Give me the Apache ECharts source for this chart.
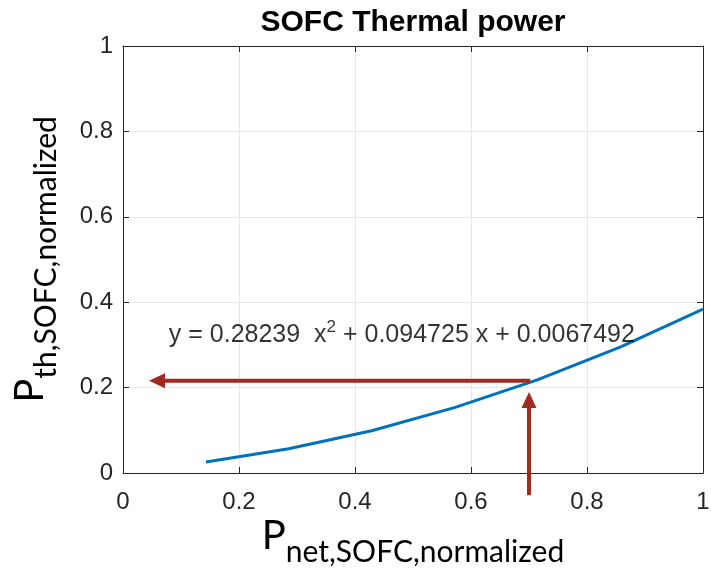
<!DOCTYPE html>
<html><head><meta charset="utf-8">
<script src="https://cdn.jsdelivr.net/npm/echarts@6/dist/echarts.min.js"></script>
<style>html,body{margin:0;padding:0;background:#fff}#c{width:711px;height:569px}</style>
</head><body><div id="c"></div>
<script>
// ---- data ----
const titleText = 'SOFC Thermal power';
const xValues = [0.1429, 0.2857, 0.4286, 0.5714, 0.7143, 0.8571, 1.0];
const yValues = [0.026, 0.057, 0.099, 0.153, 0.218, 0.295, 0.384];
const xTicks = ['0', '0.2', '0.4', '0.6', '0.8', '1'];
const yTicks = ['0', '0.2', '0.4', '0.6', '0.8', '1'];
const xName = ['P', 'net,SOFC,normalized'];
const yName = ['P', 'th,SOFC,normalized'];
const eqParts = ['y = 0.28239  x', '2', ' + 0.094725 x + 0.0067492'];
const eqPos = [0.079, 0.322];
// arrows: [start, end(head centre)]
const hArrow = [[0.702, 0.216], [0.0586, 0.216]];
const vArrow = [[0.7, -0.052], [0.7, 0.171]];
const headRotation = [90, 0];

const axisColor = '#262626';
const arrowColor = '#A1291D';

const chart = echarts.init(document.getElementById('c'), null, {renderer: 'canvas'});
const tickFmt = arr => (v) => {
  const i = Math.round(v / 0.2);
  return arr[i] !== undefined ? arr[i] : '';
};
const nameRich = {
  p: {fontSize: 40, fontFamily: 'Lato', color: '#000', lineHeight: 40, verticalAlign: 'top'},
  s: {fontSize: 30, fontFamily: 'Lato', color: '#000', lineHeight: 51, verticalAlign: 'bottom'}
};
const baseAxis = {
  type: 'value', min: 0, max: 1, interval: 0.2,
  nameMoveOverlap: false,
  axisLine: {show: true, onZero: false, lineStyle: {color: axisColor, width: 1}},
  axisTick: {show: true, inside: true, length: 6, lineStyle: {color: axisColor, width: 1}},
};
const arrowLine = (pts) => ({
  type: 'line', data: pts, clip: false, silent: true, z: 4,
  showSymbol: false, symbol: 'none',
  lineStyle: {color: arrowColor, width: 4}
});
const option = {
  animation: false,
  backgroundColor: '#fff',
  grid: {left: 123, right: 8, top: 46, bottom: 96, containLabel: false, outerBoundsMode: 'none'},
  xAxis: [
    Object.assign({}, baseAxis, {
      position: 'bottom',
      axisLabel: {fontSize: 24, color: axisColor, fontFamily: 'Liberation Sans', margin: 17, formatter: tickFmt(xTicks)},
      splitLine: {show: true, lineStyle: {color: '#e6e6e6', width: 1}},
      name: '{p|' + xName[0] + '}{s|' + xName[1] + '}',
      nameLocation: 'middle', nameGap: 43,
      nameTextStyle: {rich: nameRich}
    }),
    Object.assign({}, baseAxis, {
      position: 'top',
      axisLabel: {show: false},
      splitLine: {show: false},
      name: titleText,
      nameLocation: 'middle', nameGap: 8,
      nameTextStyle: {fontSize: 30, fontWeight: 'bold', color: '#000', fontFamily: 'Liberation Sans'}
    })
  ],
  yAxis: [
    Object.assign({}, baseAxis, {
      position: 'left',
      axisLabel: {fontSize: 24, color: axisColor, fontFamily: 'Liberation Sans', margin: 10, formatter: tickFmt(yTicks)},
      splitLine: {show: true, lineStyle: {color: '#e6e6e6', width: 1}},
      name: '{p|' + yName[0] + '}{s|' + yName[1] + '}',
      nameLocation: 'middle', nameGap: 62,
      nameTextStyle: {rich: nameRich}
    }),
    Object.assign({}, baseAxis, {
      position: 'right',
      axisLabel: {show: false},
      splitLine: {show: false}
    })
  ],
  series: [
    {
      type: 'line',
      data: xValues.map((x, i) => [x, yValues[i]]),
      showSymbol: false, symbol: 'none',
      lineStyle: {color: '#0072BD', width: 3},
      silent: true, z: 3
    },
    arrowLine(hArrow),
    arrowLine(vArrow),
    {
      type: 'scatter', clip: false, silent: true, z: 5,
      data: [
        {value: hArrow[1], symbolRotate: headRotation[0]},
        {value: vArrow[1], symbolRotate: headRotation[1]}
      ],
      symbol: 'triangle', symbolSize: [15, 16],
      itemStyle: {color: arrowColor, opacity: 1}
    },
    {
      type: 'scatter', data: [eqPos], symbolSize: 0, silent: true, z: 5,
      label: {
        show: true, position: 'right', distance: 0,
        formatter: '{a|' + eqParts[0] + '}{sup|' + eqParts[1] + '}{a|' + eqParts[2] + '}',
        rich: {
          a: {fontSize: 25, fontFamily: 'Liberation Sans', color: '#000', lineHeight: 34},
          sup: {fontSize: 17, fontFamily: 'Liberation Sans', color: '#000', lineHeight: 17, verticalAlign: 'top'}
        }
      }
    }
  ]
};
chart.setOption(option);
</script>
</body></html>
